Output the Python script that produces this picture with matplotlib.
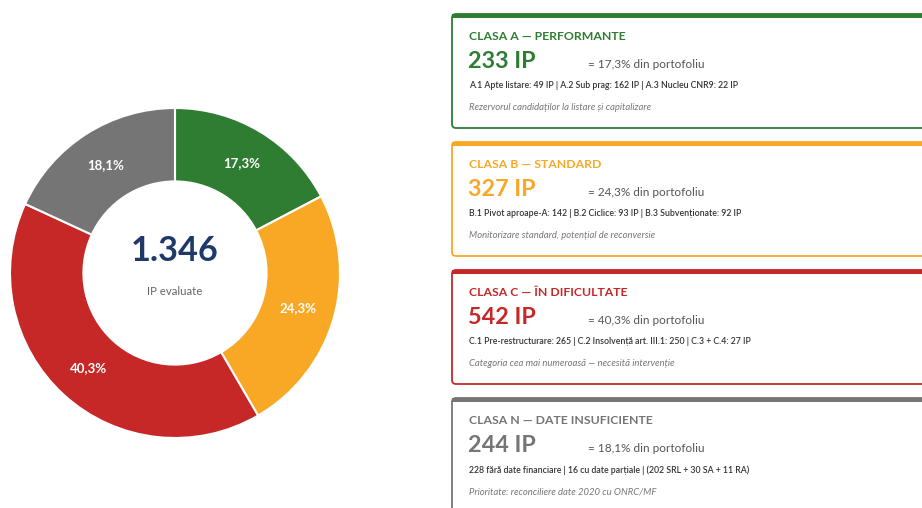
import matplotlib
matplotlib.use('Agg')
import numpy as np
import matplotlib.pyplot as plt
from matplotlib.patches import FancyBboxPatch, Rectangle

plt.rcParams['font.family'] = ['Lato', 'DejaVu Sans']

# data
classes = ['A', 'B', 'C', 'N']
class_names = ['CLASA A — PERFORMANTE', 'CLASA B — STANDARD',
               'CLASA C — ÎN DIFICULTATE', 'CLASA N — DATE INSUFICIENTE']
counts = [233, 327, 542, 244]
colors = ['#2E7D32', '#F9A825', '#C62828', '#757575']
details = ['A.1 Apte listare: 49 IP | A.2 Sub prag: 162 IP | A.3 Nucleu CNR9: 22 IP',
           'B.1 Pivot aproape-A: 142 | B.2 Ciclice: 93 IP | B.3 Subvenționate: 92 IP',
           'C.1 Pre-restructurare: 265 | C.2 Insolvență art. III.1: 250 | C.3 + C.4: 27 IP',
           '228 fără date financiare | 16 cu date parțiale | (202 SRL + 30 SA + 11 RA)']
notes = ['Rezervorul candidaților la listare și capitalizare',
         'Monitorizare standard, potențial de reconversie',
         'Categoria cea mai numeroasă — necesită intervenție',
         'Prioritate: reconciliere date 2020 cu ONRC/MF']

total = sum(counts)
pcts = [c / total * 100 for c in counts]


def fmt_pct(p):
    return ('%.1f%%' % p).replace('.', ',')


W, H = 922, 508
fig = plt.figure(figsize=(W / 100, H / 100), dpi=100)
fig.patch.set_facecolor('white')

# cards area, pixel coordinates
ax = fig.add_axes([0, 0, 1, 1])
ax.set_xlim(0, W)
ax.set_ylim(H, 0)
ax.axis('off')

card_x, card_w, card_h, step, top0 = 452, 500, 114, 128, 14
for i in range(len(classes)):
    y0 = top0 + i * step
    box = FancyBboxPatch((card_x, y0), card_w, card_h,
                         boxstyle='round,pad=0,rounding_size=4',
                         fc='white', ec=colors[i], lw=1.3, zorder=2)
    ax.add_patch(box)
    ax.add_patch(Rectangle((card_x, y0), card_w, 4, fc=colors[i], ec='none', zorder=3))
    ax.text(469, y0 + 22, class_names[i], color=colors[i], fontsize=8.8,
            fontweight='bold', va='center', ha='left', zorder=4)
    ax.text(468, y0 + 48, '%d IP' % counts[i], color=colors[i], fontsize=16.8,
            fontweight='bold', va='center', ha='left', zorder=4)
    ax.text(588, y0 + 50, '= %s din portofoliu' % fmt_pct(pcts[i]), color='#555555',
            fontsize=8.5, va='center', ha='left', zorder=4)
    ax.text(469, y0 + 72, details[i], color='#333333', fontsize=6.3,
            fontweight='semibold', va='center', ha='left', zorder=4)
    ax.text(469, y0 + 94, notes[i], color='#777777', fontsize=6.8,
            style='italic', va='center', ha='left', zorder=4)

# donut
cx, cy, R = 175, 273, 165
ring = 0.445
pax = fig.add_axes([(cx - R) / W, (H - cy - R) / H, 2 * R / W, 2 * R / H])
wedges, _ = pax.pie(counts, colors=colors, startangle=90, counterclock=False,
                    radius=1, wedgeprops=dict(width=ring, edgecolor='white', linewidth=1.5))
pax.set_xlim(-1, 1)
pax.set_ylim(-1, 1)
pax.set_aspect('equal')
pax.axis('off')

ang = 90.0
for p in pcts:
    mid = ang - p / 100 * 360 / 2
    ang -= p / 100 * 360
    r = 1 - ring / 2
    pax.text(r * np.cos(np.radians(mid)), r * np.sin(np.radians(mid)), fmt_pct(p),
             color='white', fontsize=9.5, fontweight='bold', ha='center', va='center')

pax.text(0, 0.135, '{:,}'.format(total).replace(',', '.'), color='#1F3A68',
         fontsize=24.7, fontweight='bold', ha='center', va='center')
pax.text(0, -0.11, 'IP evaluate', color='#666666', fontsize=8.2,
         ha='center', va='center')

fig.savefig('out.png', dpi=100, facecolor='white')
